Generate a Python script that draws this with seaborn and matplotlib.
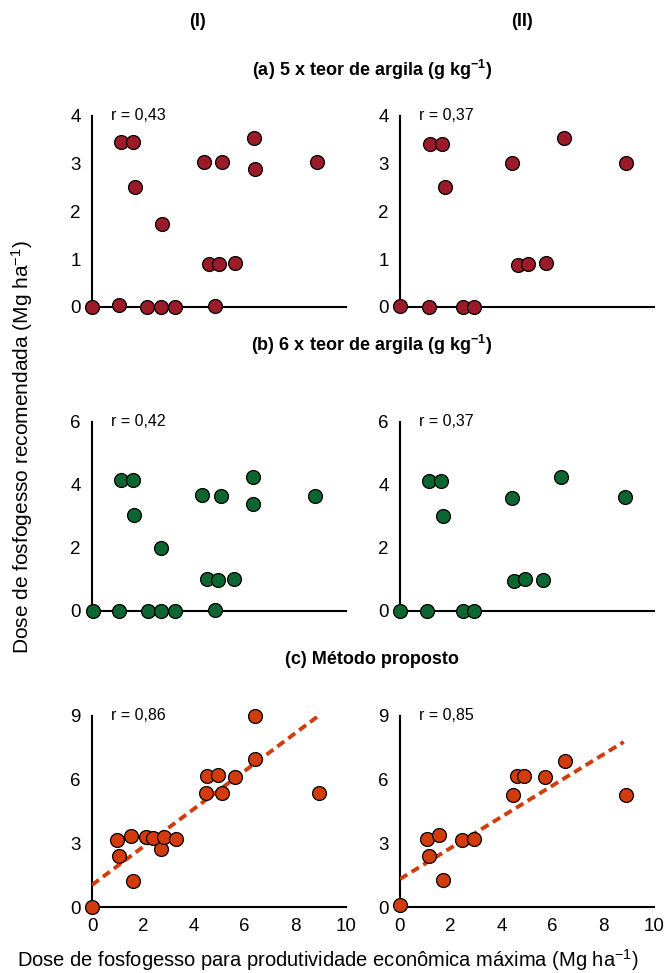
import numpy as np
import pandas as pd
import matplotlib
matplotlib.use("Agg")
import matplotlib.pyplot as plt
import seaborn as sns

sns.set_style("white")
plt.rcParams["font.family"] = ["Liberation Sans", "DejaVu Sans"]
plt.rcParams["mathtext.fontset"] = "custom"
plt.rcParams["mathtext.rm"] = "Liberation Sans"
plt.rcParams["mathtext.bf"] = "Liberation Sans:bold"
plt.rcParams["mathtext.default"] = "regular"
plt.rcParams["text.color"] = "black"
plt.rcParams["axes.labelcolor"] = "black"

# (a) 5 x teor de argila
a1_x = [0.0, 1.08, 1.15, 1.60, 1.71, 2.17, 2.72, 2.76, 3.27, 4.41, 4.63, 4.83, 5.00, 5.14, 5.64, 6.40, 6.44, 8.88]
a1_y = [0.0, 0.05, 3.46, 3.46, 2.52, 0.0, 0.0, 1.73, 0.0, 3.03, 0.90, 0.02, 0.90, 3.03, 0.92, 3.53, 2.90, 3.03]
a2_x = [0.0, 1.13, 1.18, 1.67, 1.79, 2.47, 2.93, 4.42, 4.64, 5.06, 5.76, 6.47, 8.91]
a2_y = [0.02, 0.0, 3.42, 3.42, 2.52, 0.0, 0.0, 3.02, 0.88, 0.90, 0.93, 3.53, 3.02]

# (b) 6 x teor de argila
b1_x = [0.04, 1.08, 1.14, 1.60, 1.64, 2.20, 2.72, 2.70, 3.28, 4.34, 4.53, 4.83, 4.95, 5.09, 5.59, 6.36, 6.36, 8.79]
b1_y = [0.0, 0.0, 4.15, 4.15, 3.04, 0.0, 0.0, 2.00, 0.0, 3.68, 1.00, 0.02, 0.98, 3.63, 1.00, 4.24, 3.38, 3.63]
b2_x = [0.0, 1.05, 1.14, 1.62, 1.71, 2.47, 2.93, 4.42, 4.51, 4.93, 5.62, 6.36, 8.88]
b2_y = [0.0, 0.0, 4.12, 4.12, 3.01, 0.0, 0.0, 3.58, 0.93, 1.00, 0.98, 4.25, 3.62]

# (c) Método proposto
c1_x = [0.0, 0.99, 1.06, 1.53, 1.61, 2.12, 2.41, 2.70, 2.84, 3.33, 4.48, 4.54, 4.97, 5.11, 5.65, 6.42, 6.44, 8.93]
c1_y = [0.0, 3.16, 2.40, 3.36, 1.22, 3.29, 3.27, 2.74, 3.29, 3.20, 5.36, 6.17, 6.22, 5.38, 6.14, 9.00, 6.98, 5.38]
c2_x = [0.0, 1.05, 1.13, 1.54, 1.71, 2.46, 2.92, 4.47, 4.63, 4.88, 5.70, 6.49, 8.92]
c2_y = [0.10, 3.20, 2.39, 3.40, 1.28, 3.16, 3.19, 5.29, 6.18, 6.18, 6.12, 6.89, 5.29]

# fitted lines shown in (c): intercept, slope, x range
c1_fit = (1.05, 0.89, [0.0, 9.03])
c2_fit = (1.33, 0.73, [0.0, 8.82])

r_labels = [["r = 0,43", "r = 0,37"], ["r = 0,42", "r = 0,37"], ["r = 0,86", "r = 0,85"]]
row_titles = ["(a) 5 x teor de argila (g kg$^{\\mathbf{-1}}$)",
              "(b) 6 x teor de argila (g kg$^{\\mathbf{-1}}$)",
              "(c) Método proposto"]
y_max = [4, 6, 9]
y_ticks = [[0, 1, 2, 3, 4], [0, 2, 4, 6], [0, 3, 6, 9]]
colors = ["#9b1c28", "#0d6630", "#d23c0c"]

panels = [[(a1_x, a1_y), (a2_x, a2_y)],
          [(b1_x, b1_y), (b2_x, b2_y)],
          [(c1_x, c1_y), (c2_x, c2_y)]]
fits = [c1_fit, c2_fit]

fig = plt.figure(figsize=(6.64, 9.73), dpi=100)
lefts = [0.1386, 0.6024]
width = 0.382
bottoms = [0.6845, 0.3724, 0.0675]
heights = [0.1963, 0.1942, 0.1969]

for i in range(3):
    for j in range(2):
        ax = fig.add_axes([lefts[j], bottoms[i], width, heights[i]])
        xs, ys = panels[i][j]
        df = pd.DataFrame({"x": xs, "y": ys})
        if i == 2:
            b0, b1, xr = fits[j]
            fit_df = pd.DataFrame({"x": xr, "y": [b0 + b1 * v for v in xr]})
            sns.lineplot(data=fit_df, x="x", y="y", ax=ax, color=colors[i], lw=2.8,
                         ls=(0, (2.2, 1.3)), zorder=3)
        sns.scatterplot(data=df, x="x", y="y", ax=ax, color=colors[i], s=100,
                        edgecolor="black", linewidth=0.9, clip_on=False, zorder=5)
        ax.set_xlim(0, 10)
        ax.set_ylim(0, y_max[i])
        ax.set_xticks([0, 2, 4, 6, 8, 10])
        ax.set_yticks(y_ticks[i])
        if i < 2:
            ax.set_xticklabels([])
        ax.set_xlabel("")
        ax.set_ylabel("")
        for side in ["top", "right"]:
            ax.spines[side].set_visible(False)
        for side in ["left", "bottom"]:
            ax.spines[side].set_linewidth(1.5)
            ax.spines[side].set_color("black")
        ax.tick_params(axis="both", direction="out", length=5, width=1.5,
                       labelsize=13.5, colors="black", pad=3)
        ax.text(0.75, y_max[i], r_labels[i][j], fontsize=11.5, va="center", ha="left",
                color="black")
        ax.set_facecolor("none")

fig.text(197 / 664, 1 - 22 / 973, "(I)", fontsize=13, fontweight="bold", ha="center", va="center")
fig.text(522 / 664, 1 - 22 / 973, "(II)", fontsize=13, fontweight="bold", ha="center", va="center")
title_y = [70, 345, 660]
for t, yy in zip(row_titles, title_y):
    fig.text(372 / 664, 1 - yy / 973, t, fontsize=13, fontweight="bold", ha="center", va="center")

fig.text(22 / 664, 1 - 447 / 973, "Dose de fosfogesso recomendada (Mg ha$^{-1}$)",
         rotation=90, fontsize=15, ha="center", va="center")
fig.text(328 / 664, 1 - 960 / 973,
         "Dose de fosfogesso para produtividade econômica máxima (Mg ha$^{-1}$)",
         fontsize=14.5, ha="center", va="center")

fig.savefig("out.png", dpi=100, facecolor="white")
